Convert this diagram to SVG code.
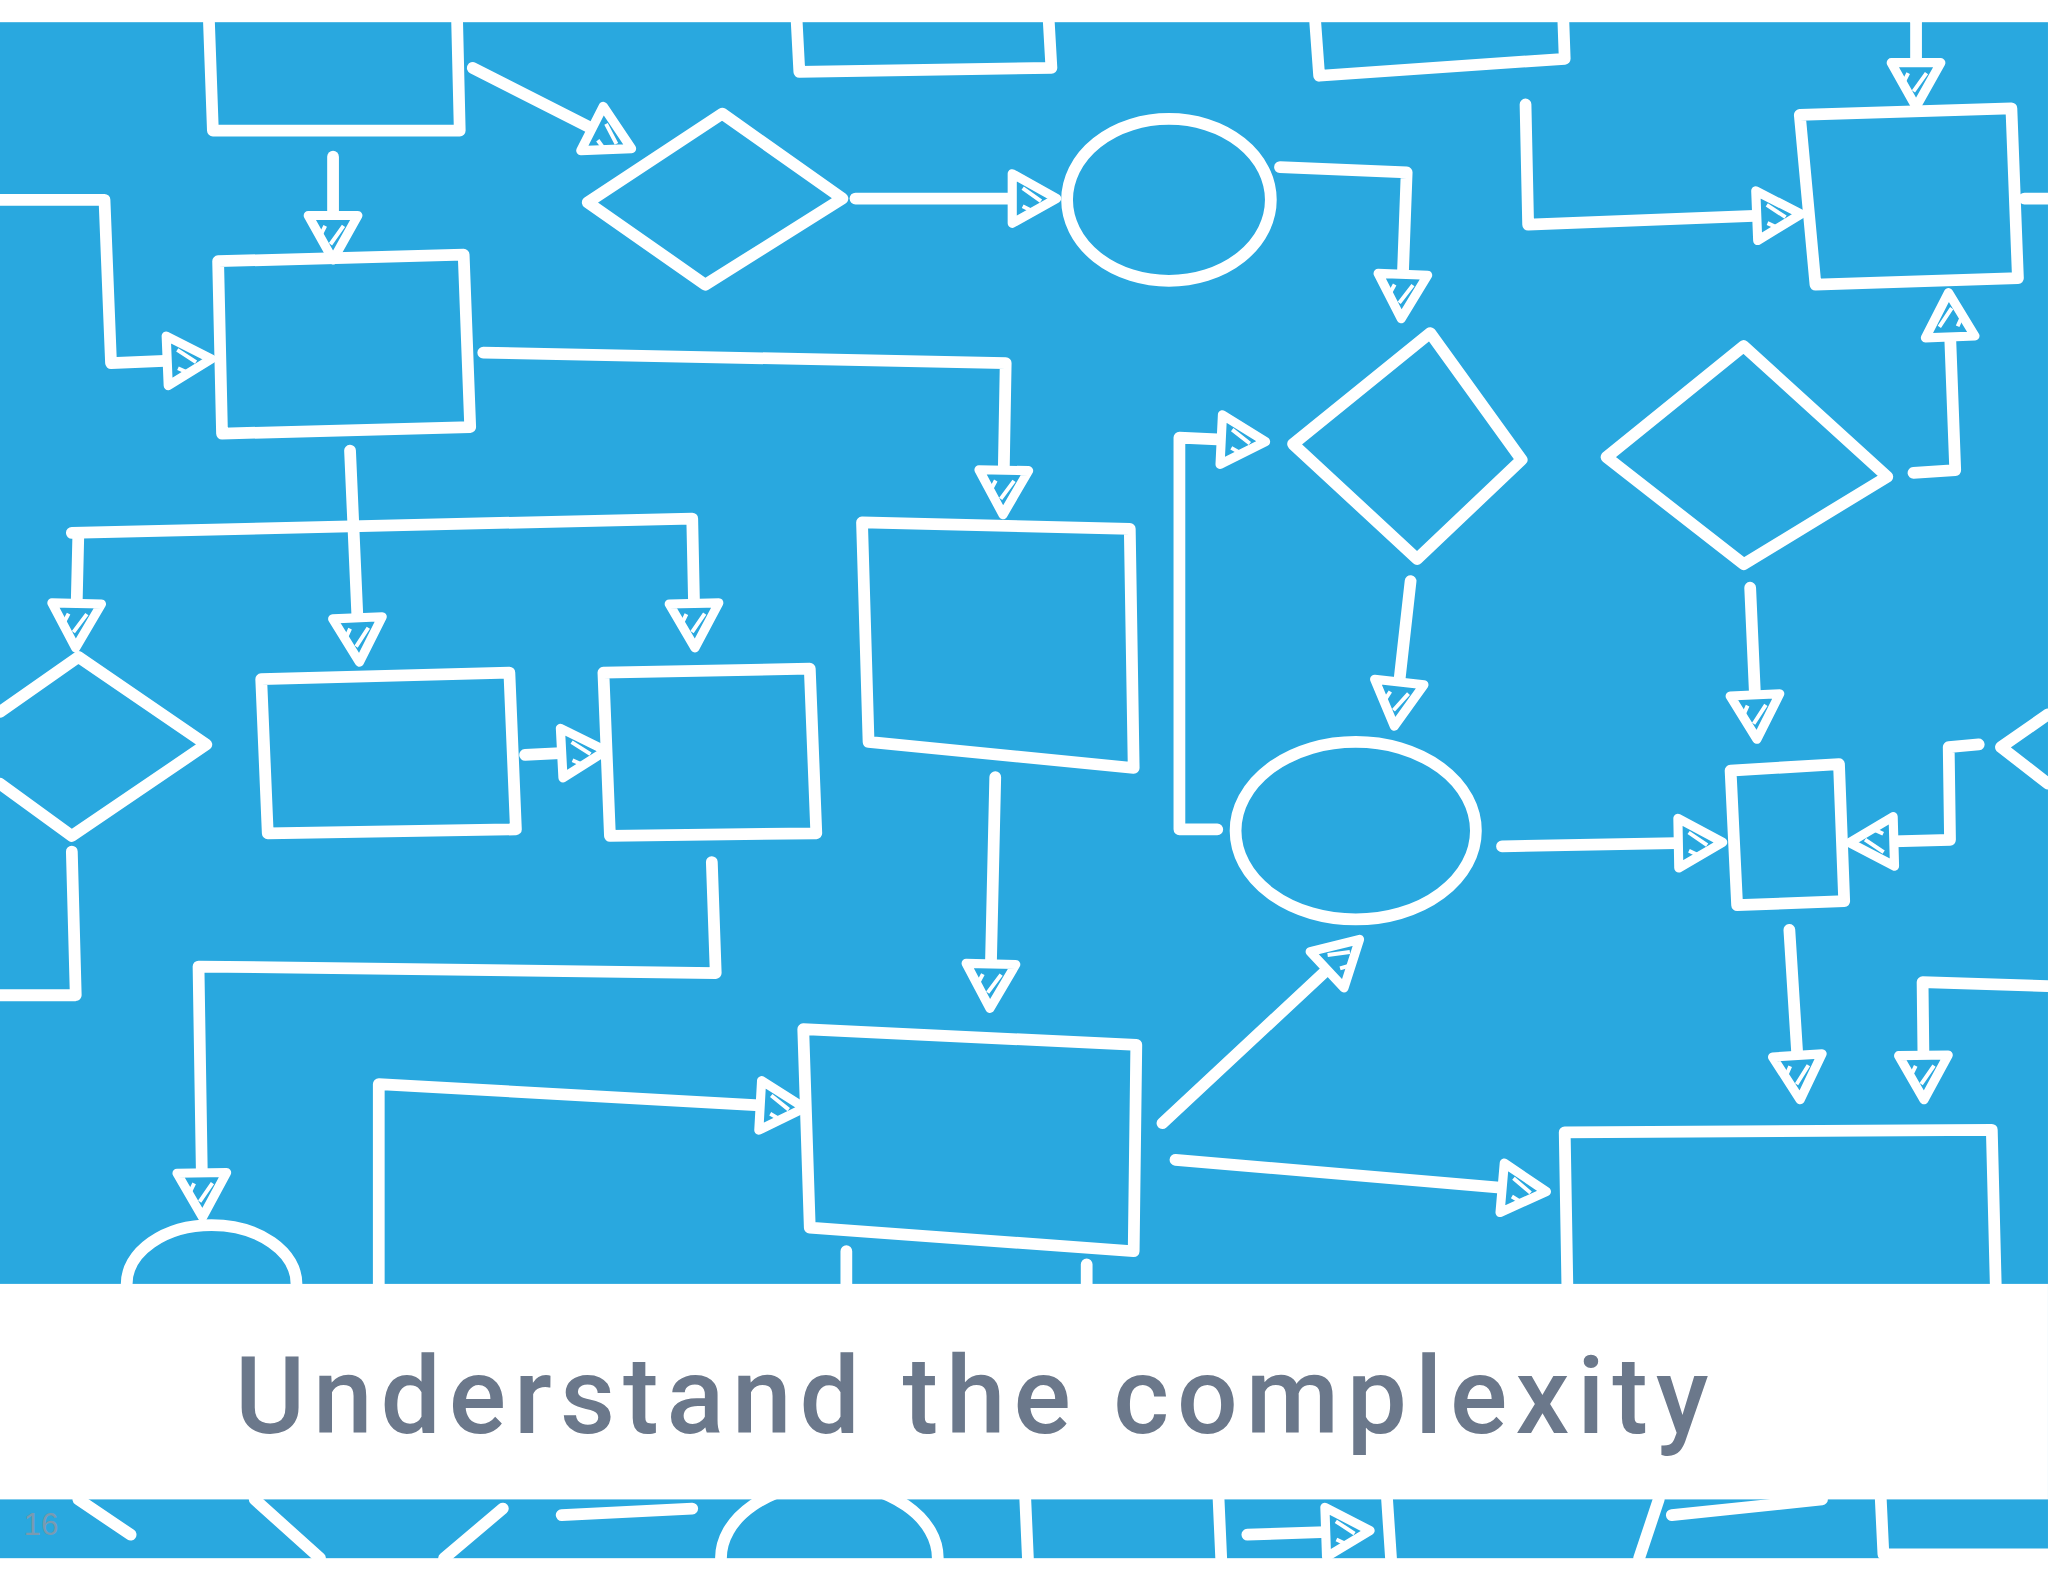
<svg xmlns="http://www.w3.org/2000/svg" width="2048" height="1582" viewBox="0 0 2048 1582">
<defs>
<style>
.s{fill:none;stroke:#fff;stroke-width:9;stroke-linecap:round;stroke-linejoin:round}
.a{fill:none;stroke:#fff;stroke-width:9;stroke-linecap:round;stroke-linejoin:round;marker-end:url(#ah)}
</style>
<marker id="ah" markerUnits="userSpaceOnUse" markerWidth="60" markerHeight="60" viewBox="-40 -30 60 60" refX="0" refY="0" orient="auto">
<path d="M4,0 L-30,-19 L-30,19 Z" fill="#29a8df" stroke="#fff" stroke-width="7" stroke-linejoin="round"/>
<path d="M-22,-8 L-8,2 M-22,6 L-14,10" fill="none" stroke="#fff" stroke-width="3"/>
</marker>
</defs>
<rect width="2048" height="1582" fill="#fff"/>
<g transform="scale(1.3061)">
<rect x="0" y="17" width="1568" height="1176" fill="#29a8df"/>
<g id="shapes">
<path class="s" d="M160,17 L163,100 L352,100 L350,17"/>
<path class="s" d="M610,17 L612,55 L805,52 L803,17"/>
<path class="s" d="M1007,17 L1010,58 L1198,45 L1197,17"/>
<path class="s" d="M450,155 L553,87 L645,152 L540,218 Z"/>
<ellipse class="s" cx="895" cy="153" rx="78" ry="62"/>
<path class="s" d="M1378,88 L1540,83 L1545,213 L1390,218 Z"/>
<path class="s" d="M167,200 L355,195 L360,327 L170,332 Z"/>
<path class="s" d="M0,545 L60,503 L158,570 L55,640 L0,600"/>
<path class="s" d="M200,520 L390,515 L395,635 L205,638 Z"/>
<path class="s" d="M462,515 L620,512 L625,638 L467,640 Z"/>
<path class="s" d="M660,400 L865,405 L868,588 L665,568 Z"/>
<path class="s" d="M990,340 L1095,255 L1165,352 L1085,428 Z"/>
<ellipse class="s" cx="1038" cy="636" rx="92" ry="68"/>
<path class="s" d="M1230,350 L1335,265 L1445,365 L1335,432 Z"/>
<path class="s" d="M1325,590 L1408,585 L1412,690 L1330,693 Z"/>
<path class="s" d="M1568,547 L1532,572 L1568,600"/>
<path class="s" d="M1200,983 L1198,867 L1525,865 L1528,983"/>
<path class="s" d="M615,788 L870,800 L868,958 L620,940 Z"/>
<path class="s" d="M97,983 A65,45 0 0 1 227,983"/>
</g>
<g id="connectors">
<path class="a" d="M362,52 L480,112"/>
<path class="a" d="M655,152 L805,152"/>
<path class="a" d="M980,128 L1077,132 L1073,240"/>
<path class="a" d="M1467,17 L1467,78"/>
<path class="a" d="M1168,80 L1170,172 L1375,164"/>
<path class="s" d="M1550,152 L1568,152"/>
<path class="a" d="M0,153 L80,153 L85,278 L158,275"/>
<path class="a" d="M255,120 L255,195"/>
<path class="a" d="M370,270 L770,278 L768,390"/>
<path class="a" d="M268,345 L275,503"/>
<path class="a" d="M60,408 L58,492"/>
<path class="a" d="M55,408 L530,397 L532,492"/>
<path class="s" d="M55,652 L58,762 L0,762"/>
<path class="a" d="M402,578 L460,575"/>
<path class="a" d="M545,660 L548,745 L152,740 L155,928"/>
<path class="a" d="M762,595 L758,768"/>
<path class="a" d="M932,635 L903,635 L903,335 L965,338"/>
<path class="a" d="M1080,445 L1068,552"/>
<path class="a" d="M1150,648 L1315,645"/>
<path class="a" d="M1465,362 L1497,360 L1492,228"/>
<path class="a" d="M1340,450 L1345,562"/>
<path class="a" d="M1515,570 L1492,572 L1493,643 L1420,645"/>
<path class="a" d="M1370,712 L1378,838"/>
<path class="a" d="M1568,755 L1472,752 L1473,838"/>
<path class="s" d="M648,958 L648,983 M832,968 L832,983"/>
<path class="a" d="M890,860 L1038,722"/>
<path class="a" d="M900,888 L1180,912"/>
<path class="a" d="M290,983 L290,830 L612,848"/>
<path class="s" d="M60,1148 L100,1175 M195,1148 L245,1193 M340,1193 L385,1155 M430,1160 L530,1155 M552,1193 A80,55 0 0 1 718,1193 M785,1148 L787,1193 M933,1148 L935,1193 M1062,1148 L1065,1193 M1270,1148 L1255,1193 M1280,1160 L1395,1148 M1440,1148 L1442,1190 L1568,1190"/>
<path class="a" d="M955,1175 L1045,1172"/>
</g>
<rect x="0" y="983" width="1568" height="165" fill="#fff"/>
<text x="180" y="1097" font-family="Roboto, 'Liberation Sans', Arial, sans-serif" font-weight="500" font-size="82" fill="#6b788b" textLength="1128" lengthAdjust="spacing">Understand the complexity</text>
<text x="18" y="1175" font-family="Liberation Sans, Arial, sans-serif" font-size="24" fill="#7a9ab0">16</text>
</g>
</svg>
